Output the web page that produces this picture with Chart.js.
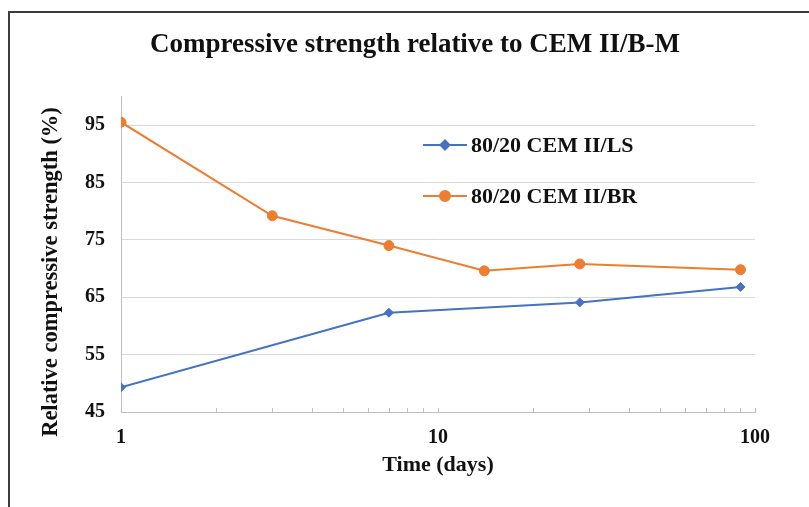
<!DOCTYPE html>
<html>
<head>
<meta charset="utf-8">
<script src="https://cdn.jsdelivr.net/npm/chart.js@4.4.1/dist/chart.umd.min.js"></script>
<style>
  html, body { margin: 0; padding: 0; background: #fff; }
  #wrap { position: relative; width: 809px; height: 507px; overflow: hidden; }
  #frame { position: absolute; left: 8px; top: 11px; width: 900px; height: 600px;
           border-left: 2px solid #3c3c3c; border-top: 2px solid #3c3c3c; }
  canvas { position: absolute; left: 0; top: 0; }
</style>
</head>
<body>
<div id="wrap">
  <div id="frame"></div>
  <canvas id="c" width="809" height="507"></canvas>
</div>
<script>
// Curing time (days) and strength relative to CEM II/B-M (%)
const daysLS = [1, 7, 28, 90];
const strengthLS = [49.3, 62.3, 64.1, 66.8];
const daysBR = [1, 3, 7, 14, 28, 90];
const strengthBR = [95.5, 79.2, 74.0, 69.6, 70.8, 69.8];

const yTicks = [45, 55, 65, 75, 85, 95];
const xMajorTicks = [1, 10, 100];

const labelLS = '80/20 CEM II/LS';
const labelBR = '80/20 CEM II/BR';
const titleText = 'Compressive strength relative to CEM II/B-M';
const yTitle = 'Relative compressive strength (%)';
const xTitle = 'Time (days)';

const BLUE = '#4472C4';
const ORANGE = '#ED7D31';
const SERIF = '"Liberation Serif", "Times New Roman", serif';

const PAD_LEFT = 75;
const PAD_RIGHT = 54;

const toPoints = (xs, ys) => xs.map((x, i) => ({ x: x, y: ys[i] }));

// Minor log ticks drawn upward from the x axis, plus vertical y title and legend
const decorations = {
  id: 'decorations',
  afterDraw(chart) {
    const ctx = chart.ctx;
    const xs = chart.scales.x;
    const area = chart.chartArea;
    ctx.save();
    ctx.strokeStyle = '#bfbfbf';
    ctx.lineWidth = 1;
    for (let d = 1; d <= 100; d *= 10) {
      for (let m = 1; m <= 9; m++) {
        const v = d * m;
        if (v <= 1 || v > 100) continue;
        const px = Math.round(xs.getPixelForValue(v)) + 0.5;
        ctx.beginPath();
        ctx.moveTo(px, area.bottom);
        ctx.lineTo(px, area.bottom - 4);
        ctx.stroke();
      }
    }
    // y axis title
    ctx.fillStyle = '#111';
    ctx.font = 'bold 22.5px ' + SERIF;
    ctx.textAlign = 'center';
    ctx.textBaseline = 'middle';
    ctx.translate(51, 272);
    ctx.rotate(-Math.PI / 2);
    ctx.fillText(yTitle, 0, 0);
    ctx.restore();

    // legend
    ctx.save();
    const entries = [
      { label: labelLS, color: BLUE, style: 'rectRot', r: 4.5, y: 145 },
      { label: labelBR, color: ORANGE, style: 'circle', r: 5, y: 196 }
    ];
    ctx.font = 'bold 22px ' + SERIF;
    ctx.textBaseline = 'middle';
    ctx.textAlign = 'left';
    entries.forEach(e => {
      ctx.strokeStyle = e.color;
      ctx.lineWidth = 2;
      ctx.beginPath();
      ctx.moveTo(423, e.y);
      ctx.lineTo(467, e.y);
      ctx.stroke();
      ctx.fillStyle = e.color;
      Chart.helpers.drawPoint(ctx, { pointStyle: e.style, radius: e.r, borderWidth: 1 }, 445, e.y);
      ctx.fillStyle = '#111';
      ctx.fillText(e.label, 471, e.y + 1);
    });
    ctx.restore();
  }
};

new Chart(document.getElementById('c'), {
  type: 'line',
  data: {
    datasets: [
      {
        label: labelLS,
        data: toPoints(daysLS, strengthLS),
        borderColor: BLUE,
        backgroundColor: BLUE,
        borderWidth: 2,
        pointStyle: 'rectRot',
        pointRadius: 4.5,
        pointBorderWidth: 1,
        tension: 0
      },
      {
        label: labelBR,
        data: toPoints(daysBR, strengthBR),
        borderColor: ORANGE,
        backgroundColor: ORANGE,
        borderWidth: 2,
        pointStyle: 'circle',
        pointRadius: 5,
        pointBorderWidth: 1,
        tension: 0
      }
    ]
  },
  options: {
    responsive: false,
    animation: false,
    devicePixelRatio: 1,
    layout: { padding: { left: PAD_LEFT, right: PAD_RIGHT, top: 0, bottom: 28 } },
    plugins: {
      legend: { display: false },
      tooltip: { enabled: false },
      title: {
        display: true,
        text: titleText,
        color: '#111',
        font: { family: SERIF, size: 27, weight: 'bold' },
        padding: { top: 29, bottom: 35 }
      }
    },
    scales: {
      x: {
        type: 'logarithmic',
        min: 1,
        max: 100,
        afterBuildTicks(scale) {
          scale.ticks = xMajorTicks.map(v => ({ value: v }));
        },
        afterFit(scale) { scale.height = 507 - 412 - 28; },
        grid: { display: false, drawOnChartArea: false, drawTicks: false },
        border: { display: true, color: '#bfbfbf', width: 1 },
        ticks: {
          color: '#111',
          font: { family: SERIF, size: 20, weight: 'bold' },
          padding: 14,
          maxRotation: 0,
          autoSkip: false,
          callback: (v) => String(v)
        },
        title: {
          display: true,
          text: xTitle,
          color: '#111',
          font: { family: SERIF, size: 22, weight: 'bold' },
          padding: { top: 4, bottom: 0 }
        }
      },
      y: {
        min: 45,
        max: 100,
        afterBuildTicks(scale) {
          scale.ticks = yTicks.map(v => ({ value: v }));
        },
        afterFit(scale) { scale.width = 121 - PAD_LEFT; },
        grid: { color: '#d9d9d9', lineWidth: 1, drawTicks: false },
        border: { display: true, color: '#bfbfbf', width: 1 },
        ticks: {
          color: '#111',
          font: { family: SERIF, size: 20, weight: 'bold' },
          padding: 16,
          callback: (v) => String(v)
        }
      }
    }
  },
  plugins: [decorations]
});
</script>
</body>
</html>
